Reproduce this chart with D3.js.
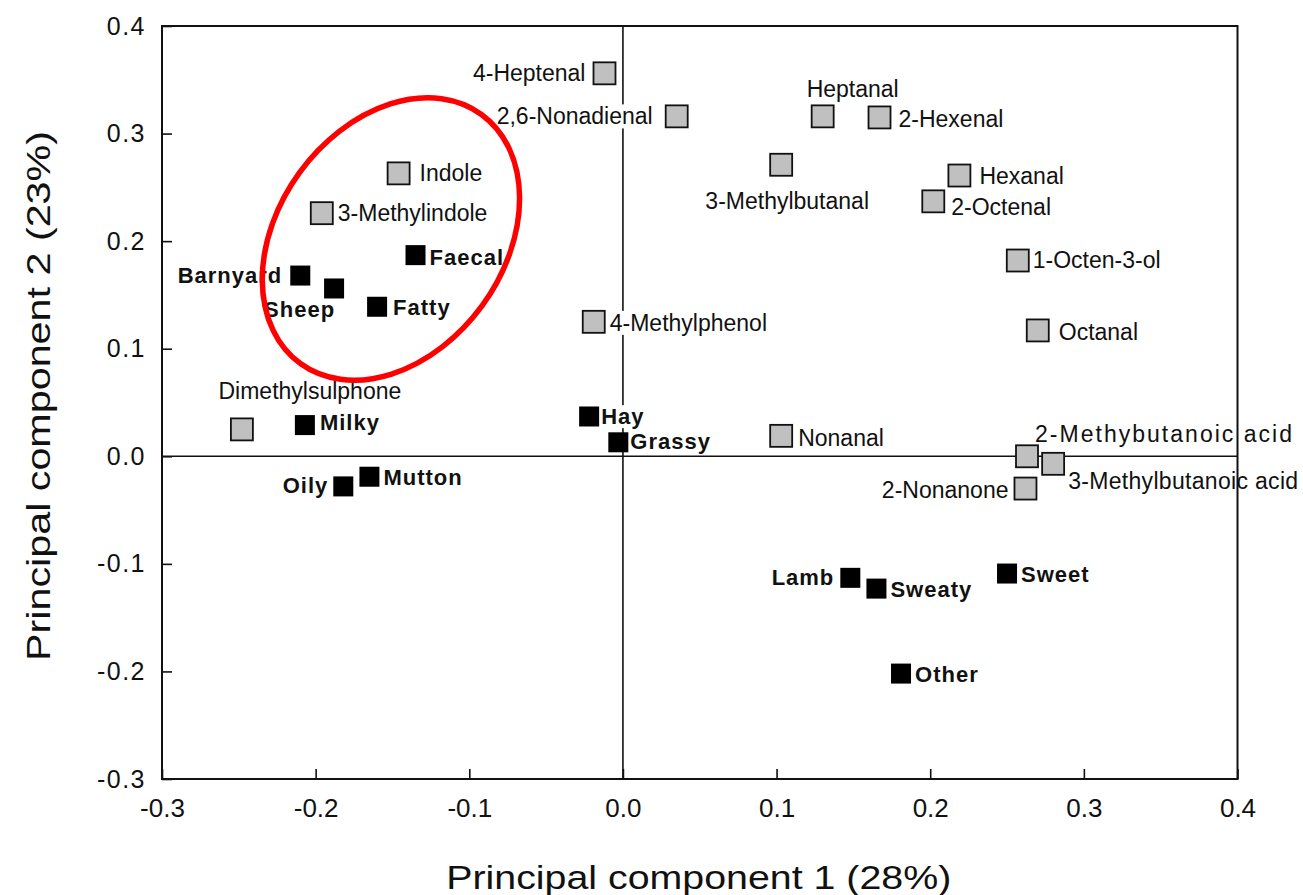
<!DOCTYPE html>
<html>
<head>
<meta charset="utf-8">
<script src="https://cdn.jsdelivr.net/npm/d3@7"></script>
<style>
  html, body { margin: 0; padding: 0; background: #fff; }
  svg { display: block; font-family: "Liberation Sans", Arial, sans-serif; }
</style>
</head>
<body>
<svg id="chart" width="1303" height="895"></svg>
<script>
// Volatile compounds (grey squares): loadings on PC1 / PC2
const compoundNames = ["4-Heptenal", "2,6-Nonadienal", "Heptanal", "2-Hexenal", "3-Methylbutanal",
  "Hexanal", "2-Octenal", "1-Octen-3-ol", "Octanal", "Indole", "3-Methylindole", "4-Methylphenol",
  "Dimethylsulphone", "Nonanal", "2-Methybutanoic acid", "3-Methylbutanoic acid", "2-Nonanone"];
const compoundPC1 = [-0.012, 0.035, 0.130, 0.167, 0.103, 0.219, 0.202, 0.257, 0.270, -0.146, -0.196,
  -0.019, -0.248, 0.103, 0.263, 0.280, 0.262];
const compoundPC2 = [0.356, 0.316, 0.316, 0.315, 0.271, 0.261, 0.237, 0.182, 0.117, 0.263, 0.226,
  0.125, 0.025, 0.019, 0.000, -0.007, -0.030];

// Sensory attributes (black squares)
const attributeNames = ["Barnyard", "Sheep", "Faecal", "Fatty", "Milky", "Oily", "Mutton", "Hay",
  "Grassy", "Lamb", "Sweaty", "Sweet", "Other"];
const attributePC1 = [-0.210, -0.188, -0.135, -0.160, -0.207, -0.182, -0.165, -0.022, -0.003,
  0.148, 0.165, 0.250, 0.181];
const attributePC2 = [0.168, 0.156, 0.187, 0.139, 0.029, -0.028, -0.019, 0.037, 0.013, -0.113,
  -0.123, -0.109, -0.202];

const xTicks = [-0.3, -0.2, -0.1, 0.0, 0.1, 0.2, 0.3, 0.4];
const yTicks = [-0.3, -0.2, -0.1, 0.0, 0.1, 0.2, 0.3, 0.4];
const xTitle = "Principal component 1 (28%)";
const yTitle = "Principal component 2 (23%)";

// Highlighted cluster (centre in data units)
const clusterCentre = [-0.151, 0.202];

// Label placement relative to each marker: [text-anchor, dx, dy, optional fitted width] in pixels
const labelPlacement = {
  "4-Heptenal": ["end", -19, 0], "2,6-Nonadienal": ["end", -24, 0], "Heptanal": ["middle", 30, -27],
  "2-Hexenal": ["start", 19, 2], "3-Methylbutanal": ["middle", 6, 36], "Hexanal": ["start", 20, 0],
  "2-Octenal": ["start", 18, 6], "1-Octen-3-ol": ["start", 15, -1], "Octanal": ["start", 21, 2],
  "Indole": ["start", 21, 0], "3-Methylindole": ["start", 16, 0], "4-Methylphenol": ["start", 16, 1],
  "Dimethylsulphone": ["middle", 68, -38], "Nonanal": ["start", 17, 2],
  "2-Methybutanoic acid": ["start", 8, -22, 257], "3-Methylbutanoic acid": ["start", 15, 17, 230],
  "2-Nonanone": ["end", -17, 1],
  "Barnyard": ["end", -18, 0], "Sheep": ["end", 1, 21], "Faecal": ["start", 14, 2],
  "Fatty": ["start", 16, 1], "Milky": ["start", 15, -3], "Oily": ["end", -15, -1],
  "Mutton": ["start", 14, 1], "Hay": ["start", 12, 0], "Grassy": ["start", 12, -1],
  "Lamb": ["end", -16, -1], "Sweaty": ["start", 14, 1], "Sweet": ["start", 14, 1],
  "Other": ["start", 14, 1]
};

const compounds = compoundNames.map((n, i) => ({ name: n, x: compoundPC1[i], y: compoundPC2[i] }));
const attributes = attributeNames.map((n, i) => ({ name: n, x: attributePC1[i], y: attributePC2[i] }));

const plotLeft = 162, plotRight = 1237.5, plotTop = 26, plotBottom = 779;
const x = d3.scaleLinear().domain([-0.3, 0.4]).range([plotLeft, plotRight]);
const y = d3.scaleLinear().domain([-0.3, 0.4]).range([plotBottom, plotTop]);

const svg = d3.select("#chart");
svg.append("rect").attr("width", 1303).attr("height", 895).attr("fill", "#fff");

// Zero reference lines
svg.append("line").attr("x1", x(0)).attr("x2", x(0)).attr("y1", plotTop).attr("y2", plotBottom)
  .attr("stroke", "#111").attr("stroke-width", 1.6);
svg.append("line").attr("x1", plotLeft).attr("x2", plotRight).attr("y1", y(0)).attr("y2", y(0))
  .attr("stroke", "#111").attr("stroke-width", 1.6);

// Axes with inward ticks
const fmt = d => d3.format(".1f")(d).replace("\u2212", "-");
const xAxis = d3.axisBottom(x).tickValues(xTicks).tickSizeInner(-10).tickSizeOuter(0)
  .tickPadding(20).tickFormat(fmt);
const yAxis = d3.axisLeft(y).tickValues(yTicks).tickSizeInner(-10).tickSizeOuter(0)
  .tickPadding(16).tickFormat(fmt);

const gx = svg.append("g").attr("transform", `translate(0,${plotBottom})`).call(xAxis);
const gy = svg.append("g").attr("transform", `translate(${plotLeft},0)`).call(yAxis);
[gx, gy].forEach(g => {
  g.select(".domain").remove();
  g.selectAll(".tick line").attr("stroke", "#111").attr("stroke-width", 1.6);
  g.selectAll(".tick text").attr("fill", "#111")
    .attr("font-family", "'Liberation Sans', Arial, sans-serif");
});
gx.selectAll(".tick text").attr("font-size", 26);
gy.selectAll(".tick text").attr("font-size", 25).attr("letter-spacing", 1.5);

// Labels with white backing so reference lines break behind them
function drawLabels(data, bold) {
  const g = svg.append("g");
  data.forEach(d => {
    const [anchor, dx, dy, fitWidth] = labelPlacement[d.name];
    const t = g.append("text")
      .attr("x", x(d.x) + dx).attr("y", y(d.y) + dy).attr("dy", "0.35em")
      .attr("text-anchor", anchor)
      .attr("font-size", bold ? 22 : 23)
      .attr("font-weight", bold ? "bold" : "normal")
      .attr("letter-spacing", bold ? 1 : 0)
      .attr("fill", "#111")
      .text(d.name);
    if (fitWidth) t.attr("textLength", fitWidth).attr("lengthAdjust", "spacing");
    const bb = t.node().getBBox();
    g.insert("rect", "text").attr("x", bb.x - 1).attr("y", bb.y + 1)
      .attr("width", bb.width + 2).attr("height", bb.height - 2).attr("fill", "#fff");
  });
}
drawLabels(compounds, false);
drawLabels(attributes, true);

// Markers
const gs = 22, bs = 20;
svg.append("g").selectAll("rect").data(compounds).join("rect")
  .attr("x", d => x(d.x) - gs / 2).attr("y", d => y(d.y) - gs / 2)
  .attr("width", gs).attr("height", gs)
  .attr("fill", "#c0c0c0").attr("stroke", "#111").attr("stroke-width", 1.8);
svg.append("g").selectAll("rect").data(attributes).join("rect")
  .attr("x", d => x(d.x) - bs / 2).attr("y", d => y(d.y) - bs / 2)
  .attr("width", bs).attr("height", bs).attr("fill", "#000");

// Plot frame
svg.append("rect").attr("x", plotLeft).attr("y", plotTop)
  .attr("width", plotRight - plotLeft).attr("height", plotBottom - plotTop)
  .attr("fill", "none").attr("stroke", "#111").attr("stroke-width", 2);

// Cluster highlight
svg.append("ellipse")
  .attr("transform", `translate(${x(clusterCentre[0])},${y(clusterCentre[1])}) rotate(36)`)
  .attr("rx", 113).attr("ry", 154)
  .attr("fill", "none").attr("stroke", "#ff0000").attr("stroke-width", 5.5);

// Axis titles
svg.append("text").attr("x", (plotLeft + plotRight) / 2 - 1).attr("y", 877).attr("dy", "0.35em")
  .attr("text-anchor", "middle").attr("font-size", 34).attr("fill", "#111")
  .attr("textLength", 505).attr("lengthAdjust", "spacingAndGlyphs")
  .text(xTitle);
svg.append("text").attr("transform", `translate(38,396) rotate(-90)`).attr("dy", "0.35em")
  .attr("text-anchor", "middle").attr("font-size", 34).attr("fill", "#111")
  .attr("textLength", 530).attr("lengthAdjust", "spacingAndGlyphs")
  .text(yTitle);
</script>
</body>
</html>
